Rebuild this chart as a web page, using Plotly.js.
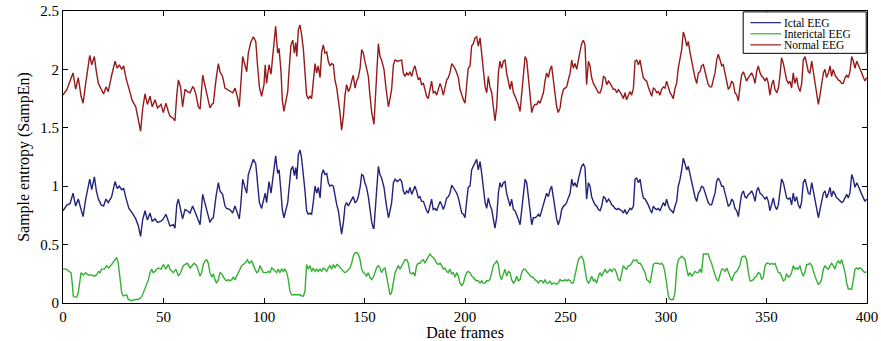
<!DOCTYPE html>
<html>
<head>
<meta charset="utf-8">
<script src="https://cdn.plot.ly/plotly-3.0.1.min.js"></script>
<style>
html,body{margin:0;padding:0;background:#fff;}
#chart{width:881px;height:341px;}
</style>
</head>
<body>
<div id="chart"></div>
<script>
// ---- data ----
const seriesNames = ["Ictal EEG", "Interictal EEG", "Normal EEG"];
const seriesColors = ["#23237a", "#35b035", "#961a1a"];

// frame positions shared by the Ictal and Normal series
const frames = [
0,2,3.5,5,6.3,7.6,9,10,11.3,13.3,14.3,15.6,16.6,17.6,19,20.2,21.4,22.5,24.2,25.9,27,28,29.2,30.2,31.3,32.8,34.5,36.2,37.5,38.6,39.6,40.8,42,43.3,44.4,45.8,47,48.8,
49.9,51.2,52.4,53.2,54.9,55.7,56.6,57.4,58.5,59.5,60.7,61.9,63.2,64.5,65.2,66.2,67.3,68.2,69.5,70.6,71.5,73.1,74,74.8,76.1,77.3,78.1,79.4,80.6,81.4,83.1,84.4,85.6,86.7,87.7,88.4,89.4,90.5,91.4,92.2,93.4,94.7,95.9,96.8,97.7,98.8,100,
100.6,101.3,102.5,103.5,104.1,105.0,105.8,106.8,107.5,108.5,109.1,109.9,110.8,111.8,112.4,113.4,114.3,115.1,115.8,116.3,117.1,117.9,118.7,119.6,120.4,121.2,122.0,122.9,123.7,124.5,125.4,126.2,127.0,127.9,128.7,129.5,130.3,131.2,132.0,132.8,133.7,134.5,135.3,136.2,137.0,137.8,138.6,139.5,140.3,141.1,142.0,142.8,143.6,144.4,145.3,146.1,146.9,147.8,148.6,149.4,150.2,151.0,151.9,152.7,153.6,154.4,
154.7,156.9,157.7,158.5,159.7,160.7,161.9,162.7,163.5,164.4,165.2,166.3,167.7,168.5,169.3,170.1,171.0,171.8,172.6,173.5,174.3,175.1,175.9,176.8,177.6,178.4,179.3,180.1,180.9,181.7,182.6,183.4,184.2,185.1,185.9,186.7,187.6,188.4,189.2,190.0,190.9,191.7,192.5,193.4,194.2,195.0,195.9,196.7,197.5,198.4,199.2,200.0,200.8,201.6,202.5,203.3,204.1,205.0,205.8,
206.6,207.5,208.3,209.1,210.0,210.8,211.6,212.4,213.3,214.1,214.9,215.8,216.6,217.4,218.2,219.1,219.9,220.7,221.6,222.4,223.2,224.1,224.9,225.7,226.5,227.4,228.2,229.1,229.9,230.7,231.6,232.4,233.2,234.0,234.8,235.7,236.5,237.3,238.2,239.0,239.8,240.6,241.5,242.3,243.1,244.0,244.8,245.6,246.4,247.3,248.1,249.0,249.8,250.6,251.4,252.3,253.1,253.9,254.7,255.6,256.4,257.2,258.0,258.9,
259.7,260.5,261.4,262.2,263.0,263.9,264.7,265.5,266.4,267.2,268.0,268.9,269.7,270.5,271.4,272.2,273.0,273.8,274.6,275.5,276.3,277.1,278.0,278.8,279.6,280.4,281.3,282.1,282.9,283.8,284.6,285.4,286.3,287.1,287.9,288.7,289.6,290.4,291.2,292.1,292.9,293.7,294.5,295.4,296.2,297.0,297.8,298.7,299.5,300.3,301.2,302.0,302.8,303.6,304.5,305.3,306.1,307.0,307.8,308.6,309.5,310.3,311.1,311.9,
312.8,313.6,314.4,315.3,316.1,316.9,317.7,318.6,319.4,320.2,321.0,321.9,322.7,323.5,324.4,325.2,326.0,326.9,327.7,328.5,329.4,330.2,331.0,331.8,332.7,333.5,334.3,335.2,336.0,336.8,337.6,338.5,339.3,340.1,341.0,341.8,342.6,343.4,344.3,345.1,345.9,346.8,347.6,348.4,349.3,350.1,350.9,351.7,352.6,353.4,354.2,355.1,355.9,356.7,357.5,358.4,359.2,360.0,360.9,361.7,362.5,
363.3,364.1,365.0,365.8,366.7,367.5,368.3,369.2,370.0,370.8,371.6,372.5,373.3,374.1,375.0,375.8,376.6,377.4,378.3,379.1,379.9,380.8,381.6,382.4,383.2,384.1,384.9,385.7,386.6,387.4,388.2,389.1,389.9,390.7,391.5,392.4,393.2,394.0,394.9,395.7,396.5,397.4,398.2,399.0,399.8
];

const ictal = [
0.79,0.84,0.85,0.94,0.83,0.89,0.80,0.74,0.89,1.06,0.97,1.08,0.96,0.89,0.84,0.83,0.89,0.86,0.91,1.04,0.98,1.00,0.97,0.98,0.90,0.81,0.77,0.72,0.66,0.57,0.71,0.79,0.71,0.77,0.70,0.72,0.69,0.70,
0.72,0.76,0.70,0.66,0.67,0.64,0.84,0.89,0.80,0.72,0.80,0.79,0.77,0.83,0.80,0.76,0.72,0.67,0.93,0.86,0.80,0.69,0.72,0.73,0.91,1.03,0.96,0.93,0.83,0.81,0.80,0.77,0.83,0.76,0.72,0.83,1.06,0.99,0.94,1.10,1.17,1.23,1.19,0.99,0.86,0.81,0.91,
0.94,0.86,1.04,0.94,1.03,1.17,1.26,1.11,1.14,0.94,0.80,0.73,0.79,0.86,0.97,1.14,1.17,1.09,1.16,1.06,1.27,1.31,1.24,1.11,0.96,0.79,0.76,0.77,0.76,0.86,1.00,0.94,0.99,0.90,1.10,1.14,1.10,1.11,1.03,1.00,1.01,1.00,0.91,0.84,0.79,0.70,0.59,0.69,0.83,0.86,0.83,0.86,0.89,0.91,0.86,0.87,0.91,0.99,1.10,1.09,1.03,0.99,0.91,0.80,0.69,0.64,
0.64,1.17,1.10,1.07,0.99,0.86,0.73,0.79,0.86,1.03,1.06,1.04,1.06,1.04,0.96,0.93,0.96,0.94,0.99,0.93,0.97,1.00,0.96,0.90,0.91,0.87,0.87,0.83,0.79,0.77,0.83,0.89,0.80,0.81,0.79,0.83,0.87,0.84,0.80,0.84,0.90,0.91,0.94,1.01,0.99,0.97,0.94,0.90,0.83,0.77,0.76,0.73,0.87,0.99,1.00,1.14,1.17,1.21,1.23,
1.14,1.21,1.11,1.00,0.86,0.81,0.90,0.84,0.80,0.72,0.64,0.74,0.94,1.03,0.99,1.03,1.04,0.94,0.87,0.83,0.89,0.80,0.79,0.76,0.72,0.67,0.80,0.96,1.06,1.03,0.89,0.76,0.67,0.73,0.73,0.74,0.76,0.74,0.80,0.83,0.90,0.94,0.91,0.97,1.00,0.90,0.80,0.72,0.67,0.72,0.80,0.83,0.84,0.86,0.90,0.94,1.06,1.00,1.03,0.99,1.06,1.11,1.17,1.19,
1.16,0.89,1.03,1.00,0.91,0.87,0.84,0.83,0.80,0.79,0.83,0.91,0.90,0.86,0.89,0.87,0.84,0.83,0.81,0.80,0.81,0.80,0.79,0.77,0.80,0.76,0.79,0.81,0.80,0.83,1.06,1.07,1.03,1.06,0.97,0.90,0.89,0.87,0.84,0.80,0.77,0.83,0.81,0.80,0.81,0.79,0.83,0.86,0.83,0.89,0.83,0.80,0.79,0.77,0.83,0.87,1.00,1.06,1.14,1.24,1.19,1.14,1.17,1.11,
1.04,0.96,0.91,0.87,0.94,0.96,1.00,0.99,0.94,0.90,0.86,0.84,0.84,0.89,0.94,1.04,1.07,1.04,1.00,1.00,0.94,0.89,0.83,0.84,0.89,0.87,0.81,0.79,0.74,0.84,0.93,0.96,0.91,0.90,0.93,0.94,0.96,0.93,0.87,0.96,0.99,0.94,0.93,0.91,0.89,0.91,0.87,0.79,0.86,0.90,0.83,0.80,0.84,0.96,1.06,1.03,0.96,0.90,0.89,0.90,0.84,
0.94,0.87,0.91,0.84,0.81,0.87,1.03,1.06,0.99,0.94,0.93,1.03,0.96,0.89,0.80,0.73,0.80,0.87,0.94,0.96,0.90,0.94,0.99,0.91,0.96,0.93,0.90,0.89,0.87,0.86,0.87,0.91,0.93,0.90,0.94,1.10,1.06,0.99,1.03,1.00,0.96,0.93,0.90,0.87,0.89
];

const normal = [
1.78,1.83,1.90,1.97,1.83,1.93,1.77,1.71,1.88,2.12,2.04,2.11,1.98,1.88,1.83,1.79,1.85,1.81,1.95,2.07,2.01,2.04,2.00,2.03,1.93,1.83,1.73,1.68,1.57,1.47,1.66,1.79,1.70,1.77,1.68,1.74,1.67,1.70,
1.63,1.71,1.64,1.60,1.58,1.56,1.78,1.91,1.85,1.68,1.83,1.81,1.80,1.85,1.84,1.78,1.68,1.66,1.95,1.87,1.81,1.67,1.70,1.71,1.91,2.05,1.98,1.94,1.84,1.83,1.81,1.80,1.84,1.77,1.68,1.84,2.11,2.04,1.98,2.14,2.23,2.28,2.24,2.03,1.85,1.77,1.87,
2.04,1.88,2.04,1.96,2.07,2.22,2.37,2.14,2.18,1.97,1.74,1.64,1.74,1.81,1.97,2.21,2.25,2.14,2.23,2.11,2.34,2.38,2.30,2.17,1.97,1.78,1.75,1.77,1.75,1.88,2.05,1.97,2.03,1.93,2.15,2.21,2.14,2.15,2.07,2.03,2.05,2.04,1.91,1.84,1.75,1.63,1.48,1.60,1.78,1.87,1.81,1.84,1.90,1.95,1.84,1.90,1.93,2.01,2.17,2.14,2.07,2.00,1.94,1.78,1.63,1.56,
1.53,2.22,2.11,2.08,2.00,1.84,1.68,1.75,1.83,2.04,2.08,2.07,2.08,2.08,1.97,1.94,1.97,1.95,1.98,1.94,2.00,2.03,1.97,1.91,1.93,1.87,1.88,1.83,1.77,1.75,1.83,1.90,1.80,1.81,1.78,1.83,1.88,1.84,1.78,1.84,1.91,1.93,1.97,2.05,2.03,2.01,1.97,1.93,1.83,1.77,1.74,1.71,1.88,2.01,2.03,2.20,2.22,2.27,2.28,
2.20,2.27,2.14,2.03,1.85,1.80,1.94,1.85,1.80,1.68,1.56,1.68,1.97,2.07,2.01,2.07,2.08,1.97,1.88,1.83,1.90,1.80,1.77,1.74,1.70,1.64,1.80,2.00,2.11,2.08,1.91,1.74,1.63,1.68,1.70,1.70,1.73,1.71,1.77,1.80,1.90,1.97,1.93,2.00,2.03,1.91,1.78,1.68,1.63,1.67,1.77,1.83,1.84,1.85,1.91,1.97,2.08,2.01,2.05,2.00,2.08,2.15,2.22,2.25,
2.21,1.87,2.07,2.03,1.93,1.88,1.85,1.83,1.80,1.80,1.84,1.94,1.93,1.87,1.90,1.88,1.85,1.83,1.83,1.80,1.83,1.81,1.78,1.75,1.80,1.74,1.77,1.81,1.78,1.84,2.07,2.08,2.04,2.08,2.00,1.93,1.91,1.90,1.85,1.80,1.77,1.84,1.83,1.80,1.81,1.78,1.83,1.85,1.84,1.90,1.84,1.80,1.78,1.75,1.84,1.88,2.01,2.08,2.17,2.32,2.27,2.20,2.24,2.15,
2.07,1.98,1.93,1.88,1.97,1.98,2.03,2.04,1.98,1.93,1.87,1.85,1.85,1.91,1.97,2.08,2.13,2.08,2.03,2.04,1.97,1.90,1.83,1.85,1.90,1.88,1.80,1.78,1.73,1.85,1.95,1.98,1.93,1.90,1.93,1.95,1.97,1.94,1.88,1.98,2.03,1.97,1.94,1.93,1.90,1.93,1.88,1.78,1.87,1.91,1.83,1.80,1.84,1.95,2.10,2.05,1.97,1.91,1.88,1.90,1.84,
1.97,1.88,1.93,1.85,1.81,1.88,2.08,2.11,2.04,1.98,1.97,2.07,1.98,1.90,1.80,1.70,1.78,1.87,1.97,2.00,1.93,1.97,2.03,1.94,2.00,1.95,1.93,1.91,1.90,1.88,1.88,1.93,1.95,1.93,1.98,2.11,2.07,2.01,2.07,2.04,2.00,1.97,1.93,1.90,1.93
];

// frame positions for the Interictal series
const framesInter = [
0,1.8,3.0,4.0,4.6,5.1,6.0,6.8,7.6,8.5,9.0,10.1,11.3,12.6,14.3,15.6,16.7,17.6,18.4,19.2,20.6,21.7,22.6,24.2,25.9,26.7,27.5,28.4,29.2,30.0,31.7,32.5,34.2,35.8,37.5,39.1,40.0,40.8,41.6,42.5,43.3,44.1,44.9,45.8,46.6,47.4,48.8,49.9,
51.2,52.4,53.2,54.9,56.2,57.4,58.5,59.9,60.7,61.9,63.2,64.5,65.2,66.5,67.3,68.2,69.0,69.8,70.6,71.5,72.3,73.1,74.0,74.8,75.6,76.4,77.3,78.1,78.9,79.8,80.6,81.4,82.3,83.1,83.9,84.7,85.6,86.4,87.2,88.1,88.9,89.7,90.5,91.7,92.7,93.9,94.7,95.5,96.4,97.2,98.0,98.8,99.7,
101.3,102.2,103.0,103.8,104.6,105.5,106.3,107.1,107.9,108.8,109.6,110.4,111.3,112.1,112.9,113.8,114.6,115.4,116.3,117.1,117.9,118.7,119.6,120.4,120.7,121.2,122.0,122.9,123.7,124.5,125.4,126.2,127.0,127.9,128.7,129.5,130.3,131.2,132.0,132.8,133.7,134.5,135.3,136.2,137.0,137.8,138.6,139.5,140.3,141.1,142.0,142.8,143.6,144.4,145.3,146.1,146.9,147.8,148.6,149.4,150.2,151.0,151.9,152.7,153.6,154.4,
155.2,156.0,156.9,157.7,158.5,159.4,160.2,161.0,161.9,162.7,163.5,164.4,165.2,166.0,166.8,167.7,168.5,169.3,170.1,171.0,171.8,172.6,173.5,174.3,175.1,175.9,176.8,177.6,178.4,179.3,180.1,180.9,181.7,182.6,183.4,184.2,185.1,185.9,186.7,187.6,188.4,189.2,190.0,190.9,191.7,192.5,193.4,194.2,195.0,195.9,196.7,197.5,198.4,199.2,200.0,200.8,201.6,202.5,203.3,204.1,205.0,205.8,
206.6,207.5,208.3,209.1,210.0,210.8,211.6,212.4,213.3,214.1,214.9,215.8,216.6,217.4,218.2,219.1,219.9,220.7,221.6,222.4,223.2,224.1,224.9,225.7,226.5,227.4,228.2,229.1,229.9,230.7,231.6,232.4,233.2,234.0,234.8,235.7,236.5,237.3,238.2,239.0,239.8,240.6,241.5,242.3,243.1,244.0,244.8,245.6,246.4,247.3,248.1,249.0,249.8,250.6,251.4,252.3,253.1,253.9,254.7,255.6,256.4,257.2,258.0,258.9,
259.7,260.5,261.4,262.2,263.0,263.9,264.7,265.5,266.4,267.2,268.0,268.9,269.7,270.5,271.4,272.2,273.0,273.8,274.6,275.5,276.3,277.1,278.0,278.8,279.6,280.4,281.3,282.1,282.9,283.8,284.6,285.4,286.3,287.1,287.9,288.7,289.6,290.4,291.2,292.1,292.9,293.7,294.5,295.4,296.2,297.0,297.8,298.7,299.5,300.3,301.2,302.0,302.8,303.6,304.5,305.3,306.1,307.0,307.8,308.6,309.5,310.3,311.1,311.9,
312.8,313.6,314.4,315.3,316.1,316.9,317.7,318.6,319.4,320.2,321.0,321.9,322.7,323.5,324.4,325.2,326.0,326.9,327.7,328.5,329.4,330.2,331.0,331.8,332.7,333.5,334.3,335.2,336.0,336.8,337.6,338.5,339.3,340.1,341.0,341.8,342.6,343.4,344.3,345.1,345.9,346.8,347.6,348.4,349.3,350.1,350.9,351.7,352.6,353.4,354.2,355.1,355.9,356.7,357.5,358.4,359.2,360.0,360.9,361.7,362.5,
363.3,364.1,365.0,365.8,366.7,367.5,368.3,369.2,370.0,370.8,371.6,372.5,373.3,374.1,375.0,375.8,376.6,377.4,378.3,379.1,379.9,380.8,381.6,382.4,383.2,384.1,384.9,385.7,386.6,387.4,388.2,389.1,389.9,390.7,391.5,392.4,393.2,394.0,394.9,395.7,396.5,397.4,398.2,399.0,399.8
];

const interictal = [
0.29,0.29,0.27,0.26,0.17,0.06,0.05,0.05,0.09,0.20,0.26,0.24,0.26,0.24,0.24,0.23,0.24,0.27,0.26,0.29,0.29,0.32,0.30,0.33,0.37,0.39,0.34,0.20,0.09,0.06,0.07,0.03,0.02,0.03,0.03,0.05,0.09,0.13,0.17,0.20,0.26,0.29,0.26,0.27,0.29,0.30,0.29,0.33,
0.29,0.33,0.29,0.26,0.29,0.23,0.26,0.32,0.33,0.34,0.30,0.33,0.34,0.32,0.27,0.23,0.26,0.33,0.36,0.37,0.34,0.26,0.22,0.25,0.20,0.17,0.20,0.26,0.25,0.22,0.20,0.19,0.20,0.19,0.20,0.22,0.20,0.23,0.26,0.29,0.32,0.33,0.34,0.37,0.34,0.36,0.32,0.29,0.26,0.27,0.32,0.29,0.26,
0.26,0.27,0.26,0.30,0.29,0.27,0.26,0.29,0.26,0.29,0.27,0.29,0.26,0.20,0.10,0.07,0.07,0.07,0.07,0.07,0.07,0.06,0.06,0.10,0.26,0.33,0.29,0.32,0.27,0.30,0.27,0.29,0.27,0.29,0.27,0.30,0.29,0.27,0.30,0.32,0.29,0.33,0.30,0.33,0.32,0.30,0.29,0.27,0.26,0.27,0.29,0.30,0.34,0.40,0.43,0.43,0.42,0.37,0.29,0.26,0.25,0.23,0.26,0.22,0.20,0.22,
0.26,0.30,0.32,0.30,0.26,0.29,0.30,0.23,0.12,0.07,0.09,0.17,0.26,0.29,0.32,0.29,0.32,0.34,0.37,0.37,0.34,0.26,0.25,0.26,0.23,0.32,0.34,0.34,0.36,0.37,0.34,0.37,0.40,0.42,0.40,0.39,0.37,0.34,0.33,0.34,0.32,0.29,0.30,0.27,0.26,0.29,0.25,0.26,0.22,0.26,0.23,0.17,0.15,0.17,0.22,0.26,0.27,0.26,0.23,0.22,0.20,0.19,
0.19,0.17,0.19,0.17,0.17,0.19,0.19,0.20,0.26,0.32,0.34,0.36,0.33,0.23,0.20,0.26,0.29,0.23,0.27,0.26,0.20,0.17,0.19,0.23,0.19,0.20,0.26,0.29,0.29,0.27,0.25,0.23,0.22,0.22,0.20,0.19,0.17,0.19,0.19,0.17,0.20,0.17,0.17,0.19,0.16,0.17,0.17,0.16,0.17,0.20,0.19,0.19,0.20,0.19,0.20,0.19,0.17,0.17,0.23,0.32,0.37,0.39,0.40,0.37,
0.26,0.20,0.17,0.19,0.23,0.19,0.20,0.17,0.23,0.26,0.23,0.27,0.29,0.26,0.27,0.29,0.27,0.29,0.29,0.25,0.20,0.19,0.26,0.32,0.30,0.29,0.32,0.32,0.34,0.37,0.36,0.37,0.34,0.34,0.32,0.29,0.26,0.20,0.19,0.17,0.26,0.33,0.34,0.34,0.34,0.33,0.34,0.32,0.26,0.17,0.06,0.03,0.03,0.03,0.09,0.29,0.37,0.39,0.40,0.39,0.37,0.29,0.23,0.26,
0.23,0.25,0.27,0.26,0.26,0.29,0.26,0.42,0.42,0.42,0.42,0.37,0.34,0.29,0.23,0.20,0.19,0.25,0.29,0.29,0.27,0.30,0.26,0.23,0.19,0.23,0.26,0.27,0.29,0.32,0.39,0.40,0.40,0.37,0.26,0.19,0.19,0.20,0.22,0.23,0.26,0.25,0.20,0.22,0.32,0.34,0.34,0.33,0.34,0.33,0.34,0.29,0.26,0.26,0.22,0.19,0.20,0.25,0.22,0.23,0.26,
0.32,0.29,0.30,0.29,0.32,0.26,0.23,0.27,0.33,0.33,0.34,0.32,0.27,0.23,0.19,0.16,0.17,0.20,0.29,0.32,0.30,0.29,0.32,0.34,0.32,0.29,0.34,0.36,0.34,0.37,0.32,0.26,0.17,0.12,0.12,0.12,0.20,0.29,0.30,0.29,0.30,0.29,0.27,0.26,0.27
];

const xTickVals = [0, 50, 100, 150, 200, 250, 300, 350, 400];
const yTickVals = [0, 0.5, 1, 1.5, 2, 2.5];
const xTitle = "Date frames";
const yTitle = "Sample entropy (SampEn)";

// ---- build chart ----
const serif = "'Liberation Serif', 'Times New Roman', Times, serif";
const xs = [frames, framesInter, frames];
const ys = [ictal, interictal, normal];

const traces = seriesNames.map((name, i) => ({
  type: "scatter",
  mode: "lines",
  name: name,
  x: xs[i],
  y: ys[i],
  line: { color: seriesColors[i], width: 1.4 },
  showlegend: false,
  hoverinfo: "skip"
}));

// compact boxed legend (MATLAB style) drawn in paper coordinates
const legX0 = 0.846, legX1 = 0.999, legY0 = 0.855, legY1 = 0.997;
const lineX0 = 0.855, lineX1 = 0.893;
const rowY = [0.960, 0.922, 0.884];
const shapes = [{
  type: "rect", xref: "paper", yref: "paper",
  x0: legX0, x1: legX1, y0: legY0, y1: legY1,
  line: { color: "#000", width: 1 }, fillcolor: "#fff", layer: "above"
}];
const annotations = [];
seriesNames.forEach((name, i) => {
  shapes.push({
    type: "line", xref: "paper", yref: "paper",
    x0: lineX0, x1: lineX1, y0: rowY[i], y1: rowY[i],
    line: { color: seriesColors[i], width: 1.2 }, layer: "above"
  });
  annotations.push({
    xref: "paper", yref: "paper", x: lineX1 + 0.002, y: rowY[i],
    xanchor: "left", yanchor: "middle", showarrow: false,
    text: name, font: { family: serif, size: 11.5, color: "#000" },
    borderpad: 0
  });
});

const axisCommon = {
  showline: true, linecolor: "#000", linewidth: 1,
  mirror: "allticks", ticks: "inside", ticklen: 5, tickwidth: 1, tickcolor: "#000",
  showgrid: false, zeroline: false,
  tickfont: { family: serif, size: 15, color: "#000" }
};

const layout = {
  width: 881, height: 341,
  margin: { l: 63, r: 14, t: 11, b: 38 },
  paper_bgcolor: "#fff", plot_bgcolor: "#fff",
  showlegend: false,
  xaxis: Object.assign({}, axisCommon, {
    range: [0, 400], tickvals: xTickVals, ticktext: xTickVals.map(String),
    title: { text: xTitle, font: { family: serif, size: 16, color: "#000" }, standoff: 0 }
  }),
  yaxis: Object.assign({}, axisCommon, {
    range: [0, 2.5], tickvals: yTickVals, ticktext: yTickVals.map(String),
    title: { text: yTitle, font: { family: serif, size: 16, color: "#000" }, standoff: 6 }
  }),
  shapes: shapes,
  annotations: annotations
};

Plotly.newPlot("chart", traces, layout, { staticPlot: true, displayModeBar: false });
</script>
</body>
</html>
